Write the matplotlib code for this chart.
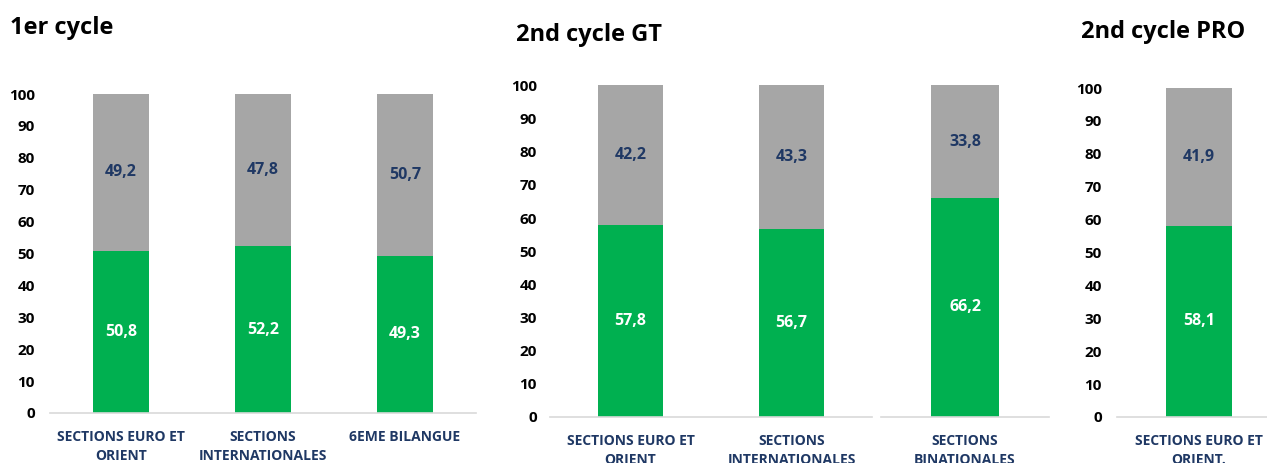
import matplotlib.pyplot as plt

# ---------- Data ----------
cats_1 = ["SECTIONS EURO ET\nORIENT", "SECTIONS\nINTERNATIONALES", "6EME BILANGUE"]
green_1 = [50.8, 52.2, 49.3]
gray_1 = [49.2, 47.8, 50.7]

cats_2 = ["SECTIONS EURO ET\nORIENT", "SECTIONS\nINTERNATIONALES"]
green_2 = [57.8, 56.7]
gray_2 = [42.2, 43.3]

cats_2b = ["SECTIONS\nBINATIONALES"]
green_2b = [66.2]
gray_2b = [33.8]

cats_3 = ["SECTIONS EURO ET\nORIENT."]
green_3 = [58.1]
gray_3 = [41.9]

yticks = [0, 10, 20, 30, 40, 50, 60, 70, 80, 90, 100]

GREEN = "#00B050"
GRAY = "#A6A6A6"
NAVY = "#1F3864"

plt.rcParams['font.family'] = ['Open Sans', 'DejaVu Sans']

W, H = 1267, 463
fig = plt.figure(figsize=(W / 100, H / 100), dpi=100)


# Function to Draw One Stacked Panel
def stacked_panel(rect, cats, green, gray, show_y=True, ypad=11):
    ax = fig.add_axes(rect)
    x = list(range(len(cats)))
    ax.bar(x, green, width=0.4, color=GREEN)
    ax.bar(x, gray, width=0.4, bottom=green, color=GRAY)

    for xi, g, r in zip(x, green, gray):
        ax.text(xi, g / 2, f"{g:.1f}".replace(".", ","), ha="center", va="center",
                color="white", fontsize=11.5, fontweight="bold")
        ax.text(xi, g + r / 2, f"{r:.1f}".replace(".", ","), ha="center", va="center",
                color=NAVY, fontsize=11.5, fontweight="bold")

    ax.set_xlim(-0.5, len(cats) - 0.5)
    ax.set_ylim(0, 100)
    ax.set_xticks(x)
    ax.set_xticklabels(cats, fontsize=10, fontweight="bold", color=NAVY, linespacing=1.45)
    ax.tick_params(axis="x", length=0, pad=12)
    if show_y:
        ax.set_yticks(yticks)
        ax.set_yticklabels([str(t) for t in yticks], fontsize=11, fontweight="bold")
        ax.tick_params(axis="y", length=0, pad=ypad)
    else:
        ax.set_yticks([])
    for side in ["top", "right", "left"]:
        ax.spines[side].set_visible(False)
    ax.spines["bottom"].set_color("#D9D9D9")
    ax.spines["bottom"].set_linewidth(1.2)
    return ax


def rect_px(x0, x1, y_top, y_bot):
    return [x0 / W, 1 - y_bot / H, (x1 - x0) / W, (y_bot - y_top) / H]


stacked_panel(rect_px(50, 476, 94, 413), cats_1, green_1, gray_1, ypad=11)
stacked_panel(rect_px(550, 872, 85.5, 417), cats_2, green_2, gray_2, ypad=9.5)
stacked_panel(rect_px(881, 1049, 85.5, 417), cats_2b, green_2b, gray_2b, show_y=False)
stacked_panel(rect_px(1116.5, 1281.5, 88, 417), cats_3, green_3, gray_3, ypad=10.5)

# Panel Titles
fig.text(10 / W, 1 - 28 / H, "1er cycle", fontsize=17, fontweight="bold", va="center")
fig.text(516 / W, 1 - 35 / H, "2nd cycle GT", fontsize=17, fontweight="bold", va="center")
fig.text(1081 / W, 1 - 32 / H, "2nd cycle PRO", fontsize=17, fontweight="bold", va="center")

fig.savefig("out.png", dpi=100)
